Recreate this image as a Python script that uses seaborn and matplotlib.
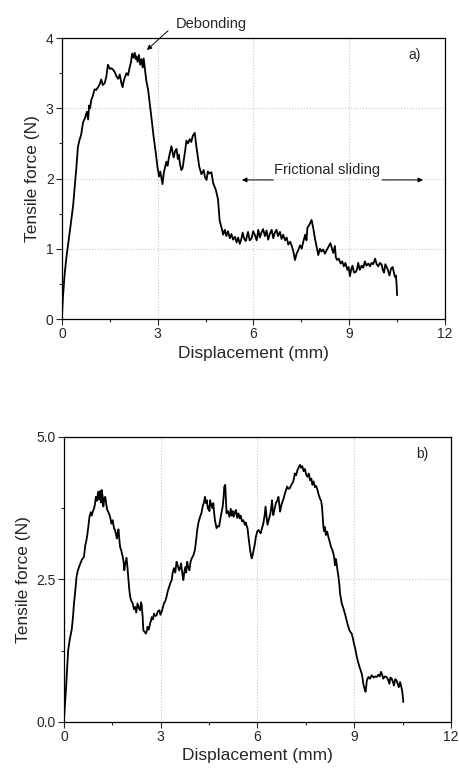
import pandas as pd
import matplotlib
matplotlib.use("Agg")
import matplotlib.pyplot as plt
from matplotlib.ticker import MultipleLocator, FormatStrFormatter
import seaborn as sns

# panel a) - displacement (mm) and tensile force (N)
disp_a = [0.00, 0.03, 0.08, 0.14, 0.19, 0.24, 0.29, 0.35, 0.40, 0.45,
          0.50, 0.55, 0.60, 0.66, 0.72, 0.78, 0.82, 0.85, 0.88, 0.92,
          0.97, 1.02, 1.07, 1.13, 1.18, 1.23, 1.28, 1.34, 1.39, 1.44,
          1.50, 1.55, 1.60, 1.65, 1.70, 1.76, 1.81, 1.86, 1.90, 1.93,
          1.97, 2.02, 2.07, 2.12, 2.16, 2.20, 2.24, 2.28, 2.31, 2.33,
          2.37, 2.41, 2.45, 2.49, 2.53, 2.56, 2.60, 2.64, 2.70, 2.75,
          2.82, 2.87, 2.94, 2.99, 3.04, 3.08, 3.12, 3.15, 3.19, 3.22,
          3.27, 3.31, 3.35, 3.39, 3.43, 3.47, 3.50, 3.55, 3.59, 3.63,
          3.66, 3.70, 3.74, 3.78, 3.82, 3.86, 3.90, 3.95, 4.00, 4.05,
          4.10, 4.16, 4.21, 4.26, 4.30, 4.37, 4.44, 4.48, 4.53, 4.57,
          4.61, 4.68, 4.74, 4.82, 4.89, 4.94, 5.00, 5.05, 5.10, 5.15,
          5.20, 5.26, 5.31, 5.36, 5.42, 5.47, 5.52, 5.57, 5.62, 5.66,
          5.71, 5.76, 5.80, 5.83, 5.88, 5.94, 5.99, 6.04, 6.10, 6.15,
          6.20, 6.25, 6.30, 6.36, 6.41, 6.46, 6.52, 6.57, 6.62, 6.67,
          6.72, 6.77, 6.83, 6.88, 6.93, 6.99, 7.04, 7.09, 7.15, 7.20,
          7.25, 7.30, 7.35, 7.41, 7.46, 7.51, 7.56, 7.62, 7.66, 7.69,
          7.75, 7.82, 7.87, 7.92, 7.98, 8.03, 8.08, 8.13, 8.18, 8.24,
          8.29, 8.34, 8.41, 8.45, 8.50, 8.55, 8.58, 8.62, 8.67, 8.73,
          8.78, 8.83, 8.88, 8.94, 8.98, 9.02, 9.06, 9.10, 9.15, 9.21,
          9.25, 9.28, 9.33, 9.39, 9.44, 9.49, 9.54, 9.60, 9.65, 9.70,
          9.75, 9.81, 9.86, 9.91, 9.96, 10.02, 10.05, 10.09, 10.13, 10.17,
          10.21, 10.26, 10.31, 10.36, 10.40, 10.43, 10.46, 10.48, 10.50]
force_a = [0.05, 0.30, 0.62, 0.88, 1.05, 1.22, 1.40, 1.62, 1.88, 2.15,
           2.45, 2.55, 2.62, 2.80, 2.86, 2.95, 2.84, 3.04, 3.00, 3.12,
           3.18, 3.27, 3.26, 3.30, 3.34, 3.41, 3.33, 3.36, 3.45, 3.62,
           3.56, 3.57, 3.55, 3.52, 3.46, 3.42, 3.48, 3.36, 3.30, 3.38,
           3.44, 3.50, 3.47, 3.58, 3.65, 3.78, 3.72, 3.79, 3.70, 3.74,
           3.66, 3.76, 3.62, 3.70, 3.58, 3.71, 3.55, 3.40, 3.26, 3.07,
           2.80, 2.60, 2.36, 2.17, 2.03, 2.10, 2.00, 1.92, 2.08, 2.14,
           2.24, 2.18, 2.30, 2.38, 2.46, 2.36, 2.30, 2.40, 2.42, 2.28,
           2.34, 2.20, 2.12, 2.15, 2.27, 2.40, 2.54, 2.50, 2.56, 2.52,
           2.61, 2.65, 2.46, 2.30, 2.17, 2.06, 2.12, 2.02, 1.98, 2.10,
           2.07, 2.09, 1.93, 1.84, 1.70, 1.40, 1.30, 1.20, 1.27, 1.18,
           1.25, 1.15, 1.21, 1.13, 1.17, 1.09, 1.16, 1.07, 1.14, 1.23,
           1.14, 1.11, 1.19, 1.24, 1.12, 1.15, 1.25, 1.20, 1.12, 1.27,
           1.16, 1.23, 1.28, 1.18, 1.26, 1.13, 1.22, 1.27, 1.15, 1.23,
           1.27, 1.18, 1.24, 1.14, 1.20, 1.12, 1.16, 1.06, 1.10, 1.04,
           0.96, 0.84, 0.93, 0.99, 1.05, 1.00, 1.10, 1.20, 1.12, 1.30,
           1.34, 1.41, 1.30, 1.16, 1.02, 0.91, 1.00, 0.96, 0.99, 0.93,
           0.98, 1.02, 1.08, 1.02, 0.94, 1.04, 0.88, 0.84, 0.86, 0.79,
           0.82, 0.75, 0.80, 0.70, 0.74, 0.61, 0.70, 0.76, 0.66, 0.67,
           0.72, 0.80, 0.70, 0.76, 0.73, 0.82, 0.76, 0.79, 0.75, 0.80,
           0.78, 0.86, 0.78, 0.75, 0.80, 0.77, 0.70, 0.66, 0.78, 0.74,
           0.70, 0.62, 0.72, 0.74, 0.66, 0.60, 0.62, 0.52, 0.34]

# panel b)
disp_b = [0.00, 0.03, 0.06, 0.10, 0.13, 0.18, 0.24, 0.28, 0.31, 0.35,
          0.39, 0.43, 0.48, 0.55, 0.62, 0.66, 0.70, 0.73, 0.76, 0.79,
          0.83, 0.86, 0.90, 0.93, 0.96, 0.99, 1.02, 1.06, 1.09, 1.12,
          1.15, 1.17, 1.20, 1.22, 1.25, 1.28, 1.31, 1.34, 1.38, 1.43,
          1.47, 1.51, 1.55, 1.58, 1.61, 1.64, 1.67, 1.69, 1.72, 1.74,
          1.78, 1.82, 1.85, 1.87, 1.90, 1.94, 1.97, 1.99, 2.02, 2.05,
          2.09, 2.13, 2.17, 2.20, 2.24, 2.28, 2.32, 2.36, 2.39, 2.41,
          2.44, 2.46, 2.50, 2.54, 2.57, 2.59, 2.63, 2.67, 2.70, 2.72,
          2.76, 2.79, 2.83, 2.87, 2.91, 2.96, 2.99, 3.03, 3.06, 3.10,
          3.14, 3.18, 3.22, 3.26, 3.30, 3.34, 3.37, 3.41, 3.45, 3.49,
          3.53, 3.57, 3.60, 3.63, 3.67, 3.70, 3.73, 3.76, 3.79, 3.82,
          3.85, 3.89, 3.92, 3.96, 4.01, 4.06, 4.10, 4.13, 4.17, 4.22,
          4.26, 4.30, 4.34, 4.37, 4.40, 4.43, 4.46, 4.48, 4.51, 4.53,
          4.56, 4.60, 4.63, 4.65, 4.68, 4.73, 4.78, 4.81, 4.86, 4.92,
          4.95, 4.97, 5.00, 5.02, 5.04, 5.08, 5.13, 5.17, 5.20, 5.23,
          5.26, 5.30, 5.33, 5.37, 5.41, 5.45, 5.48, 5.52, 5.56, 5.61,
          5.64, 5.66, 5.69, 5.72, 5.75, 5.77, 5.80, 5.82, 5.85, 5.87,
          5.91, 5.95, 5.99, 6.03, 6.07, 6.10, 6.14, 6.18, 6.22, 6.25,
          6.28, 6.31, 6.35, 6.40, 6.43, 6.45, 6.47, 6.49, 6.53, 6.57,
          6.61, 6.65, 6.68, 6.70, 6.73, 6.77, 6.81, 6.85, 6.88, 6.92,
          6.96, 7.00, 7.05, 7.11, 7.14, 7.16, 7.20, 7.24, 7.28, 7.32,
          7.35, 7.39, 7.43, 7.47, 7.51, 7.55, 7.59, 7.63, 7.67, 7.70,
          7.74, 7.78, 7.82, 7.86, 7.89, 7.92, 7.95, 7.97, 8.00, 8.02,
          8.04, 8.06, 8.09, 8.12, 8.16, 8.20, 8.24, 8.28, 8.32, 8.35,
          8.38, 8.40, 8.43, 8.45, 8.48, 8.51, 8.54, 8.56, 8.59, 8.61,
          8.65, 8.68, 8.72, 8.76, 8.80, 8.85, 8.88, 8.92, 8.96, 8.99,
          9.04, 9.08, 9.12, 9.16, 9.20, 9.23, 9.26, 9.28, 9.32, 9.35,
          9.37, 9.39, 9.44, 9.49, 9.54, 9.60, 9.65, 9.70, 9.75, 9.79,
          9.83, 9.87, 9.90, 9.95, 10.00, 10.05, 10.09, 10.12, 10.16, 10.20,
          10.23, 10.27, 10.31, 10.35, 10.38, 10.42, 10.45, 10.49, 10.52]
force_b = [0.05, 0.30, 0.56, 0.95, 1.26, 1.45, 1.62, 1.85, 2.08, 2.30,
           2.55, 2.66, 2.74, 2.84, 2.90, 3.10, 3.20, 3.31, 3.45, 3.60,
           3.68, 3.62, 3.70, 3.74, 3.82, 3.95, 3.88, 4.04, 3.90, 4.05,
           3.85, 4.07, 3.95, 3.78, 3.92, 3.95, 3.82, 3.72, 3.68, 3.60,
           3.48, 3.54, 3.40, 3.37, 3.30, 3.22, 3.34, 3.38, 3.18, 3.07,
           3.00, 2.90, 2.80, 2.66, 2.78, 2.88, 2.70, 2.55, 2.35, 2.20,
           2.12, 2.08, 1.98, 2.02, 1.92, 2.08, 2.00, 1.96, 2.10, 2.05,
           1.84, 1.61, 1.58, 1.55, 1.60, 1.67, 1.62, 1.73, 1.78, 1.84,
           1.80, 1.90, 1.86, 1.87, 1.94, 1.96, 1.88, 1.93, 2.00, 2.08,
           2.12, 2.20, 2.30, 2.37, 2.44, 2.49, 2.62, 2.70, 2.62, 2.81,
           2.74, 2.66, 2.70, 2.78, 2.60, 2.49, 2.62, 2.72, 2.62, 2.81,
           2.72, 2.66, 2.80, 2.87, 2.92, 3.02, 3.20, 3.37, 3.50, 3.60,
           3.66, 3.78, 3.85, 3.95, 3.84, 3.89, 3.74, 3.78, 3.70, 3.89,
           3.82, 3.75, 3.84, 3.70, 3.54, 3.40, 3.44, 3.43, 3.60, 3.78,
           3.95, 4.13, 4.16, 3.90, 3.66, 3.70, 3.60, 3.74, 3.62, 3.70,
           3.60, 3.68, 3.72, 3.58, 3.66, 3.57, 3.62, 3.52, 3.54, 3.46,
           3.50, 3.45, 3.40, 3.25, 3.12, 3.02, 2.92, 2.87, 2.93, 2.99,
           3.10, 3.25, 3.34, 3.37, 3.33, 3.31, 3.40, 3.48, 3.62, 3.78,
           3.60, 3.46, 3.55, 3.66, 3.78, 3.89, 3.72, 3.63, 3.74, 3.84,
           3.88, 3.95, 3.80, 3.69, 3.78, 3.86, 3.92, 4.01, 4.06, 4.13,
           4.09, 4.10, 4.16, 4.22, 4.30, 4.36, 4.33, 4.42, 4.47, 4.51,
           4.46, 4.49, 4.40, 4.44, 4.34, 4.30, 4.36, 4.24, 4.27, 4.16,
           4.22, 4.12, 4.14, 4.07, 4.00, 3.95, 3.90, 3.89, 3.78, 3.60,
           3.45, 3.35, 3.42, 3.28, 3.34, 3.24, 3.16, 3.07, 3.02, 2.96,
           2.88, 2.75, 2.86, 2.80, 2.66, 2.55, 2.40, 2.25, 2.16, 2.08,
           2.02, 1.96, 1.88, 1.79, 1.70, 1.61, 1.58, 1.55, 1.46, 1.38,
           1.26, 1.14, 1.05, 0.97, 0.90, 0.85, 0.76, 0.67, 0.58, 0.53,
           0.62, 0.73, 0.79, 0.76, 0.82, 0.78, 0.80, 0.79, 0.83, 0.80,
           0.88, 0.82, 0.76, 0.80, 0.79, 0.74, 0.67, 0.78, 0.76, 0.70,
           0.64, 0.75, 0.73, 0.66, 0.61, 0.70, 0.64, 0.53, 0.35]

sns.set_style("ticks")
plt.rcParams['font.family'] = ['Liberation Sans', 'DejaVu Sans']

fig = plt.figure(figsize=(4.59, 7.73), dpi=100)
ax_a = fig.add_axes([0.135, 0.5873, 0.8345, 0.3635])
ax_b = fig.add_axes([0.1394, 0.066, 0.8432, 0.3687])

df_a = pd.DataFrame({'disp': disp_a, 'force': force_a})
df_b = pd.DataFrame({'disp': disp_b, 'force': force_b})

for ax, df, ymax, ystep, fmt in [(ax_a, df_a, 4, 1, '%d'), (ax_b, df_b, 5, 2.5, '%.1f')]:
    sns.lineplot(data=df, x='disp', y='force', ax=ax, sort=False, estimator=None,
                 color='black', lw=1.3)
    ax.set_xlim(0, 12)
    ax.set_ylim(0, ymax)
    ax.xaxis.set_major_locator(MultipleLocator(3))
    ax.xaxis.set_minor_locator(MultipleLocator(1.5))
    ax.yaxis.set_major_locator(MultipleLocator(ystep))
    ax.yaxis.set_minor_locator(MultipleLocator(ystep / 2))
    ax.yaxis.set_major_formatter(FormatStrFormatter(fmt))
    ax.tick_params(which='major', direction='out', length=4, width=0.8, labelsize=10, pad=2)
    ax.tick_params(which='minor', direction='out', length=2.5, width=0.8)
    ax.grid(True, which='major', color='#c8c8c8', ls=':', lw=0.8)
    for s in ax.spines.values():
        s.set_visible(True)
        s.set_color('black')
        s.set_linewidth(0.9)
    ax.set_xlabel('Displacement (mm)', fontsize=12.5, labelpad=3)
    ax.set_ylabel('Tensile force (N)', fontsize=12.5, labelpad=4)

# annotations, panel a)
ax_a.annotate('Debonding', xy=(2.66, 3.83), xytext=(4.67, 4.2), ha='center', va='center',
              fontsize=10.5, annotation_clip=False,
              arrowprops=dict(arrowstyle='-|>', color='black', lw=0.7, mutation_scale=7,
                              shrinkA=4, shrinkB=0, relpos=(0.0, 0.5)))
ax_a.text(8.32, 2.12, 'Frictional sliding', ha='center', va='center', fontsize=10.5)
ax_a.annotate('', xy=(5.64, 1.98), xytext=(6.62, 1.98),
              arrowprops=dict(arrowstyle='-|>', color='black', lw=0.7, mutation_scale=7,
                              shrinkA=0, shrinkB=0))
ax_a.annotate('', xy=(11.31, 1.98), xytext=(10.03, 1.98),
              arrowprops=dict(arrowstyle='-|>', color='black', lw=0.7, mutation_scale=7,
                              shrinkA=0, shrinkB=0))
ax_a.text(11.06, 3.76, 'a)', ha='center', va='center', fontsize=10)
ax_b.text(11.1, 4.70, 'b)', ha='center', va='center', fontsize=10)

fig.savefig('out.png', dpi=100)
